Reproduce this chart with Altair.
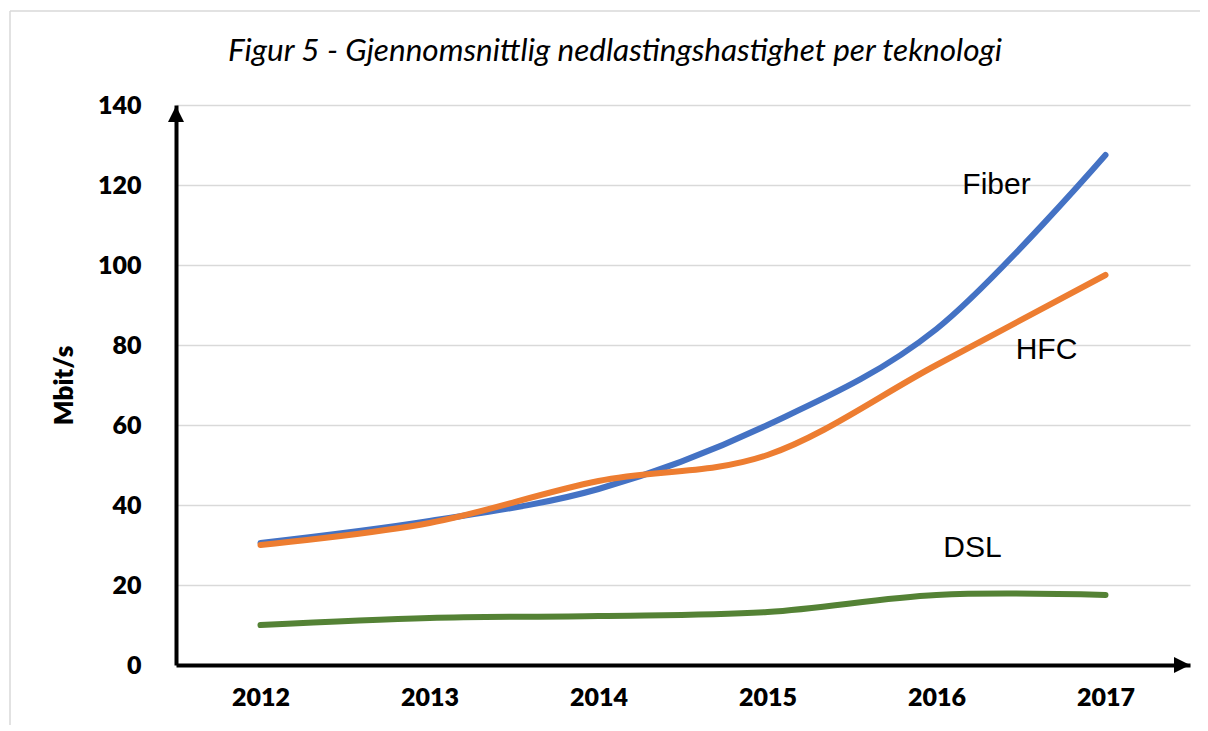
import altair as alt
import pandas as pd

years = ["2012", "2013", "2014", "2015", "2016", "2017"]
fiber = [30.5, 36, 44, 60, 84, 127.5]
hfc = [30, 35.5, 46, 52.5, 75, 97.5]
dsl = [10, 11.75, 12.25, 13.25, 17.5, 17.5]
series_names = ["Fiber", "HFC", "DSL"]
series_colors = ["#4472C4", "#ED7D31", "#548235"]
title_text = "Figur 5 - Gjennomsnittlig nedlastingshastighet per teknologi"
y_title = "Mbit/s"

rows = []
for name, vals in zip(series_names, [fiber, hfc, dsl]):
    for yr, v in zip(years, vals):
        rows.append({"year": yr, "value": v, "series": name})
df = pd.DataFrame(rows)

W, H = 1014, 560

xscale = alt.Scale(type="point", padding=0.5, domain=years)
yscale = alt.Scale(domain=[0, 140], nice=False)

lines = alt.Chart(df).mark_line(
    interpolate="cardinal", tension=0, strokeWidth=6, strokeCap="round"
).encode(
    x=alt.X("year:O", scale=xscale, sort=years,
            axis=alt.Axis(title=None, labelAngle=0, ticks=False, grid=False,
                          domainColor="black", domainWidth=4,
                          labelFont="Lato", labelFontWeight=800, labelFontSize=25,
                          labelColor="black", labelPadding=20)),
    y=alt.Y("value:Q", scale=yscale,
            axis=alt.Axis(title=y_title, values=[0, 20, 40, 60, 80, 100, 120, 140],
                          ticks=False, grid=True, gridColor="#d9d9d9", gridWidth=1.5,
                          domainColor="black", domainWidth=4,
                          labelFont="Lato", labelFontWeight=800, labelFontSize=25,
                          labelColor="black", labelPadding=35,
                          titleFont="Lato", titleFontWeight=800, titleFontSize=26,
                          titleColor="black", titlePadding=20)),
    color=alt.Color("series:N", scale=alt.Scale(domain=series_names, range=series_colors),
                    legend=None),
    detail="series:N",
)

lab_df = pd.DataFrame({
    "name": series_names,
    "year": ["2016", "2016", "2016"],
    "value": [120, 78.75, 29.25],
})
labels = []
for name, dx in zip(series_names, [60, 110, 36]):
    labels.append(
        alt.Chart(lab_df[lab_df["name"] == name]).mark_text(
            font="Liberation Sans", fontSize=30, color="black", dx=dx, baseline="middle"
        ).encode(x=alt.X("year:O", scale=xscale, sort=years),
                 y=alt.Y("value:Q", scale=yscale), text="name:N")
    )

one = pd.DataFrame({"t": [title_text]})
title = alt.Chart(one).mark_text(
    font="Lato", fontStyle="italic", fontSize=31.5, color="black", baseline="middle"
).encode(x=alt.value(439), y=alt.value(-53), text="t:N")

up_arrow = alt.Chart(one).mark_point(
    shape="M-1,1L0,-1L1,1Z", size=256, filled=True, color="black", opacity=1
).encode(x=alt.value(0), y=alt.value(9))
right_arrow = alt.Chart(one).mark_point(
    shape="M-1,-1L1,0L-1,1Z", size=256, filled=True, color="black", opacity=1
).encode(x=alt.value(W - 8), y=alt.value(H))

border_left = alt.Chart(one).mark_rule(color="#d9d9d9", strokeWidth=1.5).encode(
    x=alt.value(-166), y=alt.value(-94), y2=alt.value(640))
border_top = alt.Chart(one).mark_rule(color="#d9d9d9", strokeWidth=1.5).encode(
    y=alt.value(-94), x=alt.value(-166), x2=alt.value(1040))

chart = alt.layer(
    border_left, border_top, lines, *labels, title, up_arrow, right_arrow
).properties(
    width=W, height=H,
    autosize=alt.AutoSizeParams(type="none"),
    padding={"left": 168, "top": 97, "right": 10, "bottom": 60},
    background="white",
).configure_view(stroke=None)

chart.save("out.html", embed_options={"renderer": "svg", "actions": False})
